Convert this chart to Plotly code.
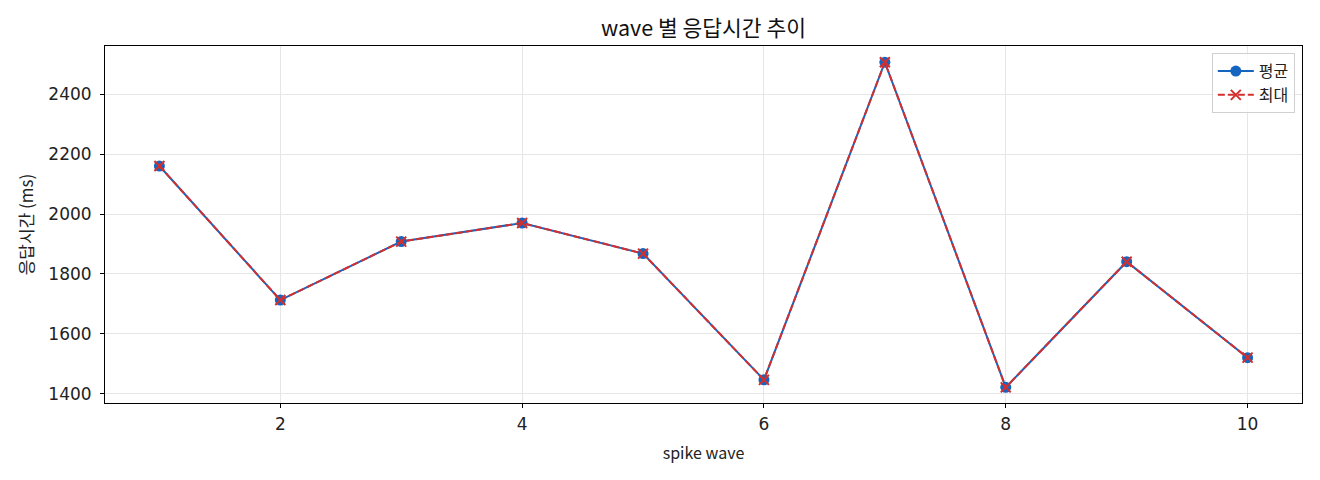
import plotly.graph_objects as go

waves = [1, 2, 3, 4, 5, 6, 7, 8, 9, 10]
avg_ms = [2160, 1713, 1908, 1970, 1868, 1447, 2506, 1422, 1841, 1521]
max_ms = [2160, 1713, 1908, 1970, 1868, 1447, 2506, 1422, 1841, 1521]
y_ticks = [1400, 1600, 1800, 2000, 2200, 2400]
x_ticks = [2, 4, 6, 8, 10]

FONT = "Noto Sans CJK KR"
TICKFONT = "DejaVu Sans"

fig = go.Figure()
fig.add_trace(go.Scatter(
    x=waves, y=avg_ms, name="평균", mode="lines+markers",
    line=dict(color="#1565c0", width=2),
    marker=dict(symbol="circle", size=11, color="#1565c0"),
))
fig.add_trace(go.Scatter(
    x=waves, y=max_ms, name="최대", mode="lines+markers",
    line=dict(color="#d32f2f", width=2, dash="7px,3px"),
    marker=dict(symbol="x-thin", size=10, line=dict(color="#d32f2f", width=2)),
))

axis_common = dict(
    showline=True, linecolor="black", linewidth=1, mirror=True,
    ticks="outside", ticklen=4, tickcolor="black",
    showgrid=True, gridcolor="#e6e6e6", gridwidth=1,
    zeroline=False, tickfont=dict(size=17, color="#222", family=TICKFONT),
)

fig.update_layout(
    width=1304, height=464,
    margin=dict(l=97, r=10, t=38, b=69),
    paper_bgcolor="white", plot_bgcolor="white",
    font=dict(family=FONT, color="#222"),
    title=dict(text="wave 별 응답시간 추이", x=0.5, xref="paper", xanchor="center",
               y=0.955, yanchor="middle",
               font=dict(size=21.5, family=FONT, color="#111")),
    xaxis=dict(range=[0.55, 10.45], tickvals=x_ticks, ticklabelstandoff=2,
               title=dict(text="spike wave", font=dict(size=16), standoff=14), **axis_common),
    yaxis=dict(range=[1369.8, 2560.2], tickvals=y_ticks, ticklabelstandoff=5,
               title=dict(text="응답시간 (ms)", font=dict(size=17), standoff=10), **axis_common),
    legend=dict(x=0.994, y=0.98, xanchor="right", yanchor="top",
                bordercolor="#d0d0d0", borderwidth=1, bgcolor="rgba(255,255,255,0.8)",
                font=dict(size=16, family=FONT), itemwidth=36, tracegroupgap=2),
    showlegend=True,
)

fig.write_html("out.html")
